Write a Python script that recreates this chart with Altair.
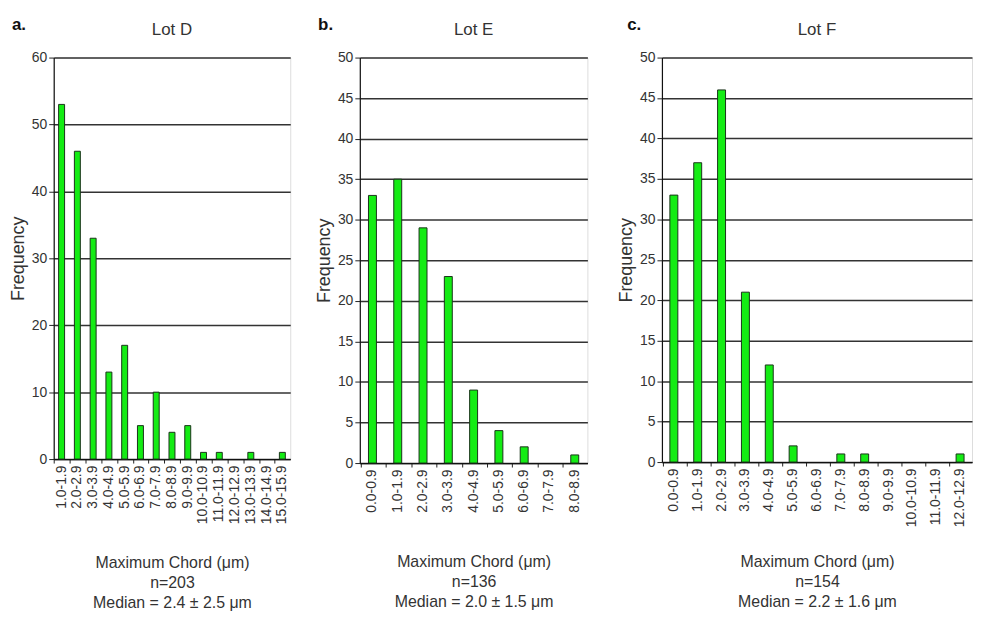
import altair as alt
import pandas as pd

bins_d = ["1.0-1.9", "2.0-2.9", "3.0-3.9", "4.0-4.9", "5.0-5.9", "6.0-6.9", "7.0-7.9",
          "8.0-8.9", "9.0-9.9", "10.0-10.9", "11.0-11.9", "12.0-12.9", "13.0-13.9",
          "14.0-14.9", "15.0-15.9"]
freq_d = [53, 46, 33, 13, 17, 5, 10, 4, 5, 1, 1, 0, 1, 0, 1]

bins_e = ["0.0-0.9", "1.0-1.9", "2.0-2.9", "3.0-3.9", "4.0-4.9", "5.0-5.9", "6.0-6.9",
          "7.0-7.9", "8.0-8.9"]
freq_e = [33, 35, 29, 23, 9, 4, 2, 0, 1]

bins_f = ["0.0-0.9", "1.0-1.9", "2.0-2.9", "3.0-3.9", "4.0-4.9", "5.0-5.9", "6.0-6.9",
          "7.0-7.9", "8.0-8.9", "9.0-9.9", "10.0-10.9", "11.0-11.9", "12.0-12.9"]
freq_f = [33, 37, 46, 21, 12, 2, 0, 1, 1, 0, 0, 0, 1]

FONT = "Liberation Sans"
TXT = "#333333"


def panel(bins, freq, lot, letter, ymax, ystep, width, height, barsize,
          xtitle, xtitle_pad, letter_dx):
    df = pd.DataFrame({"bin": bins, "freq": freq})
    bars = alt.Chart(df).transform_filter("datum.freq > 0").mark_bar(
        color="#14ec14", stroke="#1a331a", strokeWidth=1, size=barsize
    ).encode(
        x=alt.X("bin:N", sort=bins, scale=alt.Scale(domain=bins),
                axis=alt.Axis(title=xtitle, labelAngle=-90, bandPosition=0,
                              ticks=True, tickSize=4, tickColor="#222",
                              labelPadding=2, labelFontSize=14, labelColor=TXT,
                              labelFont=FONT, labelAlign="right", labelBaseline="middle",
                              domainColor="#111", domainWidth=1.2, grid=False,
                              titleFont=FONT, titleFontSize=16, titleFontWeight="normal",
                              titleColor=TXT, titlePadding=xtitle_pad,
                              titleLineHeight=20)),
        y=alt.Y("freq:Q", scale=alt.Scale(domain=[0, ymax], nice=False),
                axis=alt.Axis(title="Frequency", values=list(range(0, ymax + 1, ystep)),
                              grid=True, gridColor="#333333", gridWidth=1.5,
                              tickSize=5, tickColor="#222", domainColor="#111",
                              domainWidth=1.2, labelFontSize=14, labelColor=TXT,
                              labelFont=FONT, labelPadding=2,
                              titleFont=FONT, titleFontSize=18, titleFontWeight="normal",
                              titleColor=TXT, titlePadding=4)),
    )
    lab = alt.Chart(pd.DataFrame({"t": [letter]})).mark_text(
        font=FONT, fontSize=17, fontWeight="bold", align="left", baseline="middle",
        color="#111"
    ).encode(text="t:N", x=alt.value(letter_dx), y=alt.value(-33))
    head = alt.Chart(pd.DataFrame({"t": [lot]})).mark_text(
        font=FONT, fontSize=17, align="center", baseline="middle", color=TXT
    ).encode(text="t:N", x=alt.value(width / 2), y=alt.value(-28))
    return alt.layer(bars, lab, head).properties(width=width, height=height)


pa = panel(bins_d, freq_d, "Lot D", "a.", 60, 10, 238, 404, 6,
           ["Maximum Chord (\u03bcm)", "n=203", "Median = 2.4 \u00b1 2.5 \u03bcm"], 31, -42)
pb = panel(bins_e, freq_e, "Lot E", "b.", 50, 5, 229, 408, 8,
           ["Maximum Chord (\u03bcm)", "n=136", "Median = 2.0 \u00b1 1.5 \u03bcm"], 42, -42)
pc = panel(bins_f, freq_f, "Lot F", "c.", 50, 5, 312, 407, 8,
           ["Maximum Chord (\u03bcm)", "n=154", "Median = 2.2 \u00b1 1.6 \u03bcm"], 27, -35)

chart = alt.hconcat(alt.hconcat(pa, pb, spacing=23), pc, spacing=28).properties(
    padding={"left": 0, "top": 5, "right": 0, "bottom": 0}
).configure_view(stroke=None).configure(background="white")

chart.save("out.html", embed_options={"renderer": "svg", "actions": False})
